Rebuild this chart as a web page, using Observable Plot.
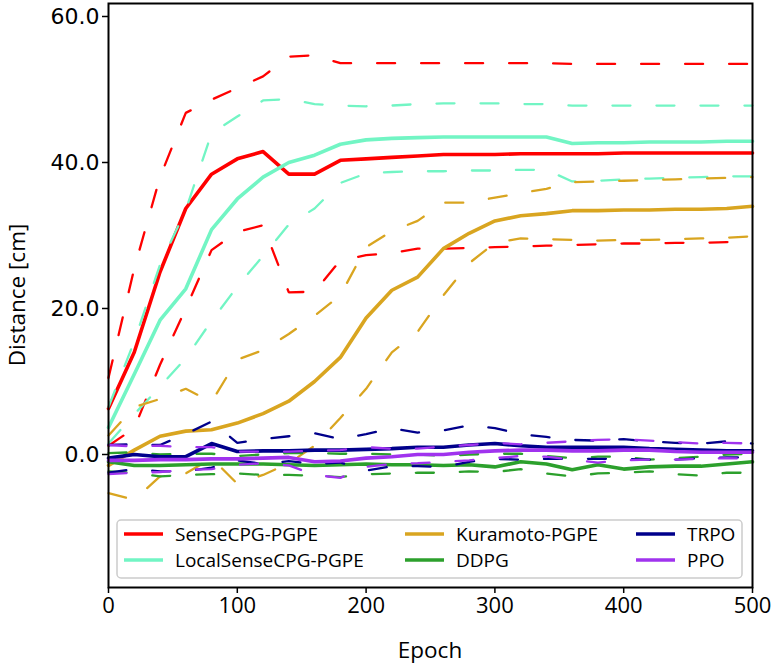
<!DOCTYPE html>
<html>
<head>
<meta charset="utf-8">
<script src="https://cdn.jsdelivr.net/npm/d3@7"></script>
<script src="https://cdn.jsdelivr.net/npm/@observablehq/plot@0.6"></script>
<style>
  html, body { margin: 0; padding: 0; background: #fff; }
  #chart svg { display: block; }
</style>
</head>
<body>
<div id="chart"></div>
<script>
// ---- data ----
const epochs = [0,20,40,60,80,100,120,140,160,180,200,220,240,260,280,300,320,340,360,380,400,420,440,460,480,500];

const seriesNames = ["SenseCPG-PGPE","LocalSenseCPG-PGPE","Kuramoto-PGPE","DDPG","TRPO","PPO"];
const seriesColors = ["#ff0000","#72f5c4","#d9a520","#2ca02c","#00008b","#a033ee"];

const senseMean = [6.3,14.0,25.0,33.7,38.4,40.5,41.5,38.4,38.4,40.3,40.5,40.7,40.9,41.1,41.1,41.1,41.2,41.2,41.2,41.2,41.3,41.3,41.3,41.3,41.3,41.3];
const senseUp   = [10.5,25.5,38.0,46.8,48.6,50.2,51.8,54.5,54.7,53.6,53.6,53.6,53.6,53.6,53.6,53.6,53.6,53.6,53.5,53.5,53.5,53.5,53.5,53.5,53.5,53.5];
const senseLo   = [1.2,3.6,12.3,20.0,28.0,30.5,31.4,22.2,22.3,26.6,27.3,27.6,28.2,28.2,28.3,28.4,28.5,28.6,28.7,28.8,28.9,28.9,29.0,29.0,29.1,29.1];

const localMean = [3.7,11.0,18.4,22.7,30.8,35.0,38.0,40.0,41.0,42.5,43.1,43.3,43.4,43.5,43.5,43.5,43.5,43.5,42.6,42.7,42.7,42.8,42.8,42.8,42.9,42.9];
const localUp   = [6.5,15.5,26.0,33.5,44.0,46.3,48.5,48.7,48.0,47.8,47.7,47.8,48.0,48.1,48.1,48.1,48.0,48.0,47.8,47.8,47.8,47.8,47.8,47.8,47.8,47.8];
const localLo   = [1.5,5.5,9.3,13.2,18.3,23.0,27.2,31.5,33.7,37.2,38.5,38.7,38.8,38.8,38.9,38.9,39.0,39.0,37.4,37.5,37.7,37.8,37.9,38.0,38.1,38.1];

const kuraMean  = [-1.5,0.6,2.5,3.2,3.4,4.3,5.6,7.3,10.0,13.3,18.7,22.5,24.3,28.2,30.3,32.0,32.7,33.0,33.4,33.4,33.5,33.5,33.6,33.6,33.7,34.0];
const kuraUp    = [2.6,6.5,7.6,9.0,7.2,13.0,14.3,16.5,19.0,21.8,28.4,30.6,32.0,34.5,34.5,35.2,35.8,36.4,37.3,37.4,37.5,37.6,37.7,37.8,37.9,38.0];
const kuraLo    = [-5.3,-6.2,-3.0,-2.6,-0.5,-4.0,-2.8,-1.2,1.2,5.0,9.0,14.0,16.8,21.8,26.2,29.0,29.6,29.5,29.4,29.3,29.4,29.4,29.5,29.6,29.7,29.9];

const ddpgMean  = [-1.0,-1.5,-1.5,-1.4,-1.3,-1.3,-1.3,-1.4,-1.5,-1.4,-1.3,-1.4,-1.4,-1.5,-1.4,-1.7,-1.0,-1.3,-2.1,-1.4,-2.0,-1.7,-1.6,-1.6,-1.3,-1.0];
const ddpgUp    = [0.2,0.3,0.0,0.1,0.1,-0.2,0.0,0.2,0.2,0.1,0.1,0.0,0.0,-0.2,0.0,0.1,0.1,-0.2,-0.5,-0.3,-0.3,-0.7,-0.5,-0.3,0.0,0.1];
const ddpgLo    = [-2.3,-2.5,-3.0,-2.8,-2.7,-2.6,-2.8,-2.8,-2.9,-3.1,-2.7,-2.6,-2.5,-2.5,-2.3,-2.4,-2.0,-2.6,-3.0,-2.6,-2.5,-2.3,-2.7,-2.9,-2.5,-2.5];

const trpoMean  = [-0.5,0.0,-0.3,-0.3,1.5,0.4,0.5,0.5,0.6,0.6,0.7,0.8,1.0,1.0,1.3,1.5,1.2,1.0,1.0,1.0,1.0,0.8,0.7,0.6,0.5,0.5];
const trpoUp    = [1.3,1.4,1.3,2.8,4.5,1.6,2.1,2.5,2.9,2.1,2.8,3.6,3.0,3.3,4.0,3.6,2.8,2.4,2.0,1.9,2.1,1.8,1.6,1.5,1.8,1.5];
const trpoLo    = [-2.5,-2.0,-2.3,-2.3,-1.8,-0.8,-1.3,-0.9,-1.3,-1.1,-2.2,-1.6,-1.6,-1.7,-1.0,-0.6,-0.7,-0.6,-0.6,-0.6,-0.6,-0.7,-0.7,-0.5,-0.4,-0.4];

const ppoMean   = [-0.8,-0.8,-0.7,-0.7,-0.6,-0.6,-0.5,-0.4,-1.0,-0.9,-0.5,-0.3,0.0,0.0,0.3,0.5,0.6,0.6,0.5,0.5,0.6,0.6,0.4,0.3,0.3,0.3];
const ppoUp     = [1.3,1.1,1.2,1.0,1.0,0.4,0.4,0.4,0.5,0.6,1.0,0.8,0.8,1.1,1.3,1.6,1.4,1.6,1.8,2.0,2.1,1.9,1.7,1.5,1.6,1.5];
const ppoLo     = [-2.7,-2.5,-2.4,-2.1,-2.0,-1.4,-1.2,-1.5,-2.8,-3.2,-1.7,-1.3,-1.2,-1.0,-0.8,-0.5,-0.2,-0.3,-0.7,-1.1,-0.8,-0.7,-0.7,-0.6,-0.5,-0.6];

const xTicks = [0,100,200,300,400,500];
const yTicks = [0,20,40,60];
const xLabel = "Epoch";
const yLabel = "Distance [cm]";

// ---- build table ----
const seriesData = [
  [senseMean, senseUp, senseLo],
  [localMean, localUp, localLo],
  [kuraMean, kuraUp, kuraLo],
  [ddpgMean, ddpgUp, ddpgLo],
  [trpoMean, trpoUp, trpoLo],
  [ppoMean, ppoUp, ppoLo]
];
const kinds = ["mean","upper","lower"];
const rows = [];
seriesNames.forEach((name, i) => {
  kinds.forEach((kind, k) => {
    seriesData[i][k].forEach((v, j) => rows.push({series: name, kind, epoch: epochs[j], value: v}));
  });
});

const lineMarks = [];
seriesNames.forEach(name => {
  ["upper","lower"].forEach(kind => {
    lineMarks.push(Plot.line(rows.filter(d => d.series === name && d.kind === kind), {
      x: "epoch", y: "value", stroke: "series", strokeWidth: 2.3, strokeDasharray: "18,26", strokeLinejoin: "miter"
    }));
  });
  lineMarks.push(Plot.line(rows.filter(d => d.series === name && d.kind === "mean"), {
    x: "epoch", y: "value", stroke: "series", strokeWidth: 3.6, strokeLinejoin: "round"
  }));
});

const W = 773, H = 666;
const mL = 108, mR = 21, mT = 3, mB = 79;

const chart = Plot.plot({
  width: W, height: H,
  marginLeft: mL, marginRight: mR, marginTop: mT, marginBottom: mB,
  style: {background: "white", fontFamily: "'Open Sans', sans-serif"},
  x: {domain: [0, 500]},
  y: {domain: [-18.22, 61.78]},
  color: {domain: seriesNames, range: seriesColors},
  marks: [
    ...lineMarks,
    Plot.frame({stroke: "black", strokeWidth: 2}),
    Plot.axisX({ticks: xTicks, tickSize: 6, tickPadding: 4, fontSize: 22, label: null, stroke: "black", strokeWidth: 1.5}),
    Plot.axisY({ticks: yTicks, tickFormat: d => d.toFixed(1), tickSize: 6, tickPadding: 3, fontSize: 22, fontFamily: "DejaVu Sans", label: null, strokeWidth: 1.5})
  ]
});
document.getElementById("chart").appendChild(chart);

// ---- axis titles and legend overlay ----
const svg = d3.select(chart);
svg.append("text")
  .attr("x", (mL + W - mR) / 2).attr("y", 658)
  .attr("text-anchor", "middle")
  .style("font-family", "'Open Sans', sans-serif").style("font-size", "22.5px").style("fill", "black")
  .text(xLabel);
svg.append("text")
  .attr("transform", `translate(16,${(mT + H - mB) / 2}) rotate(-90)`)
  .attr("text-anchor", "middle")
  .attr("dominant-baseline", "central")
  .style("font-family", "'Open Sans', sans-serif").style("font-size", "22.5px").style("fill", "black")
  .text(yLabel);

const lg = svg.append("g");
lg.append("rect").attr("x", 117).attr("y", 520).attr("width", 625).attr("height", 58)
  .attr("rx", 4).attr("fill", "white").attr("fill-opacity", 0.85).attr("stroke", "#cccccc").attr("stroke-width", 1.5);
const colX = [124, 405, 636];
const rowY = [534, 560];
seriesNames.forEach((name, i) => {
  const c = Math.floor(i / 2), r = i % 2;
  lg.append("line").attr("x1", colX[c]).attr("x2", colX[c] + 39)
    .attr("y1", rowY[r]).attr("y2", rowY[r])
    .attr("stroke", seriesColors[i]).attr("stroke-width", 3.6);
  lg.append("text").attr("x", colX[c] + 51).attr("y", rowY[r]).attr("dy", "0.36em")
    .attr("text-anchor", "start")
    .style("font-family", "'Open Sans', sans-serif").style("font-size", "19px").style("fill", "black")
    .text(name);
});
</script>
</body>
</html>
